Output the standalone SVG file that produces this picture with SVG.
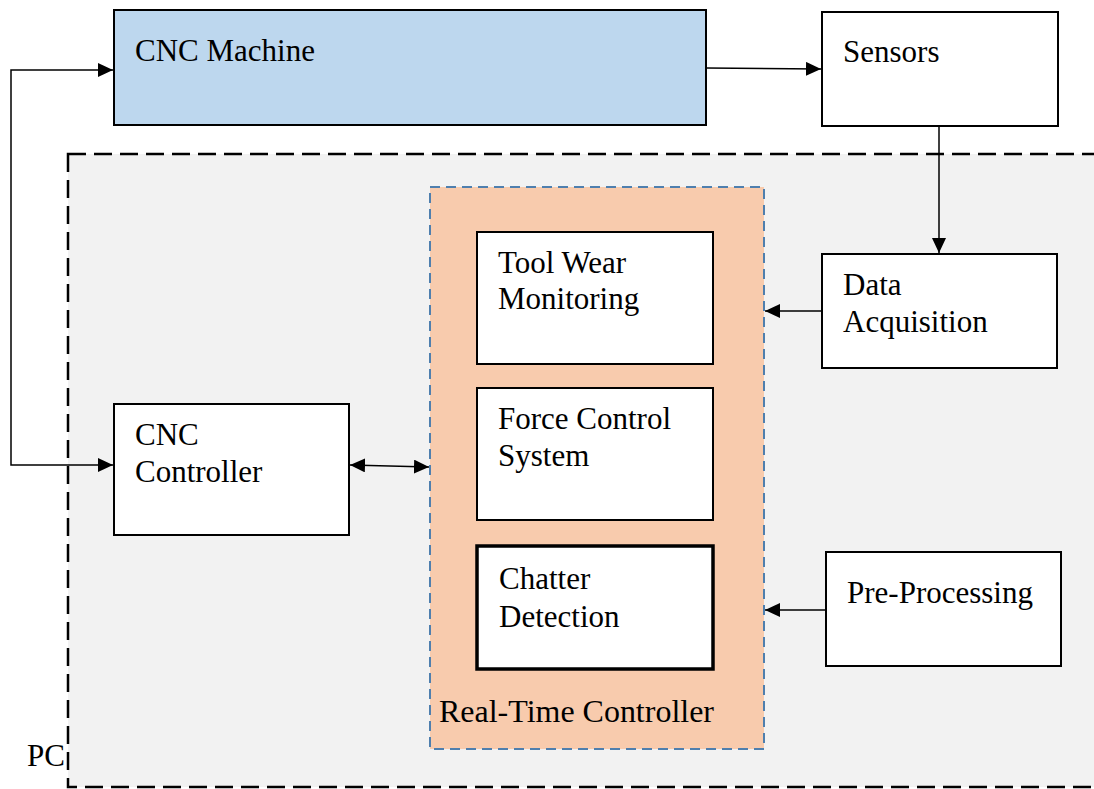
<svg xmlns="http://www.w3.org/2000/svg" width="1094" height="789" viewBox="0 0 1094 789">
<style>
.box{fill:#ffffff;stroke:#000000;stroke-width:2}
text{font-family:"Liberation Serif","Times New Roman",serif;font-size:31px;fill:#000000}
.c{fill:none;stroke:#000000;stroke-width:1.5}
</style>
<defs>
<marker id="ah" markerUnits="userSpaceOnUse" markerWidth="16" markerHeight="14" refX="15" refY="7" orient="auto-start-reverse">
<path d="M0,0 L15,7 L0,14 Z" fill="#000000"/>
</marker>
</defs>
<rect width="1094" height="789" fill="#ffffff"/>
<g id="pc">
<rect x="68" y="154" width="1040" height="633" fill="#f2f2f2" stroke="#000000" stroke-width="2.5" stroke-dasharray="18 8"/>
<text x="27" y="766">PC</text>
</g>
<g id="cnc-machine">
<rect x="114" y="10" width="592" height="115" fill="#bdd7ee" stroke="#000000" stroke-width="2"/>
<text x="135" y="61">CNC Machine</text>
</g>
<g id="sensors">
<rect class="box" x="822" y="12" width="236" height="114"/>
<text x="843" y="62">Sensors</text>
</g>
<g id="real-time-controller">
<rect x="430" y="187" width="334" height="562" fill="#f8cbad" stroke="#4f7fae" stroke-width="2" stroke-dasharray="10 6"/>
<text x="439" y="722" textLength="275" lengthAdjust="spacingAndGlyphs">Real-Time Controller</text>
</g>
<g id="tool-wear">
<rect class="box" x="477" y="232" width="236" height="132"/>
<text x="498" y="273">Tool Wear</text>
<text x="498" y="309">Monitoring</text>
</g>
<g id="force-control">
<rect class="box" x="477" y="388" width="236" height="132"/>
<text x="498" y="429">Force Control</text>
<text x="498" y="466">System</text>
</g>
<g id="chatter">
<rect x="477" y="546" width="236" height="123" fill="#ffffff" stroke="#000000" stroke-width="3.5"/>
<text x="499" y="589">Chatter</text>
<text x="499" y="627">Detection</text>
</g>
<g id="data-acquisition">
<rect class="box" x="822" y="254" width="235" height="114"/>
<text x="843" y="295">Data</text>
<text x="843" y="332">Acquisition</text>
</g>
<g id="pre-processing">
<rect class="box" x="826" y="552" width="235" height="114"/>
<text x="847" y="603">Pre-Processing</text>
</g>
<g id="cnc-controller">
<rect class="box" x="114" y="404" width="235" height="131"/>
<text x="135" y="445">CNC</text>
<text x="135" y="482">Controller</text>
</g>
<g id="connectors">
<line class="c" x1="706" y1="68" x2="821" y2="69" marker-end="url(#ah)"/>
<line class="c" x1="939" y1="126" x2="939" y2="253" marker-end="url(#ah)"/>
<line class="c" x1="822" y1="311" x2="765" y2="311" marker-end="url(#ah)"/>
<line class="c" x1="826" y1="610" x2="765" y2="610" marker-end="url(#ah)"/>
<line class="c" x1="350" y1="465" x2="429" y2="467" marker-start="url(#ah)" marker-end="url(#ah)"/>
<path class="c" d="M113,465 L11,465 L11,70 L113,70" marker-start="url(#ah)" marker-end="url(#ah)"/>
</g>
</svg>
